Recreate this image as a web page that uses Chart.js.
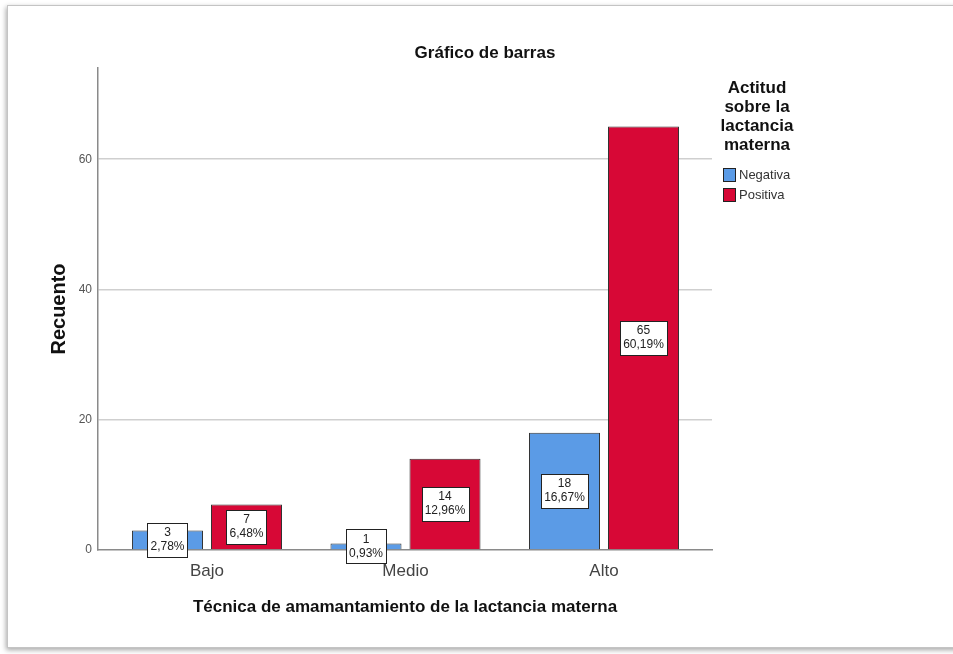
<!DOCTYPE html>
<html><head><meta charset="utf-8">
<script src="https://cdn.jsdelivr.net/npm/chart.js@4"></script>
<style>
html,body{margin:0;padding:0;background:#fff;width:953px;height:654px;overflow:hidden}
#frame{position:absolute;left:7px;top:5px;width:960px;height:641px;border:1px solid #c4c4c4;box-shadow:-1px 2px 5px rgba(0,0,0,0.35);background:#fff}
#wrap{position:absolute;left:0;top:0;width:953px;height:654px}
</style></head><body>
<div id="frame"></div>
<div id="wrap"><canvas id="c" width="953" height="654"></canvas></div>
<script>
const categories = ['Bajo', 'Medio', 'Alto'];
const seriesNames = ['Negativa', 'Positiva'];
const negativa = [3, 1, 18];
const positiva = [7, 14, 65];
const negativaPct = [2.78, 0.93, 16.67];
const positivaPct = [6.48, 12.96, 60.19];
const yTicks = [0, 20, 40, 60];
const chartTitle = 'Gráfico de barras';
const yTitle = 'Recuento';
const xTitle = 'Técnica de amamantamiento de la lactancia materna';
const legendTitle = ['Actitud', 'sobre la', 'lactancia', 'materna'];

const colors = ['#5B9BE6', '#D70836'];
const FONT = '"Liberation Sans", Arial, sans-serif';
const pctText = v => v.toFixed(2).replace('.', ',') + '%';

const toPoints = arr => arr.map((v, i) => ({x: i, y: v}));

const labelsPlugin = {
  id: 'boxLabels',
  afterDatasetsDraw(chart) {
    const ctx = chart.ctx;
    const pcts = [negativaPct, positivaPct];
    chart.data.datasets.forEach((ds, di) => {
      const meta = chart.getDatasetMeta(di);
      meta.data.forEach((bar, i) => {
        const l1 = String(ds.data[i].y);
        const l2 = pctText(pcts[di][i]);
        ctx.save();
        ctx.font = '12px ' + FONT;
        const w = Math.max(ctx.measureText(l1).width, ctx.measureText(l2).width) + 6;
        const h = 34;
        const cx = bar.x, cy = (bar.y + bar.base) / 2;
        const x0 = Math.round(cx - w / 2) + 0.5, y0 = Math.round(cy - h / 2) + 0.5;
        ctx.fillStyle = '#fff';
        ctx.strokeStyle = '#222';
        ctx.lineWidth = 1;
        ctx.fillRect(x0, y0, Math.round(w), h);
        ctx.strokeRect(x0, y0, Math.round(w), h);
        ctx.fillStyle = '#222';
        ctx.textAlign = 'center';
        ctx.textBaseline = 'middle';
        ctx.fillText(l1, cx, cy - 7);
        ctx.fillText(l2, cx, cy + 7);
        ctx.restore();
      });
    });
  },
  afterDraw(chart) {
    const ctx = chart.ctx;
    ctx.save();
    ctx.fillStyle = '#111';
    ctx.textAlign = 'center';
    ctx.textBaseline = 'middle';
    ctx.font = 'bold 17px ' + FONT;
    ctx.fillText(chartTitle, 485, 53);
    ctx.font = 'bold 17px ' + FONT;
    legendTitle.forEach((t, i) => ctx.fillText(t, 757, 88 + i * 19));
    ctx.textAlign = 'left';
    ctx.font = '13px ' + FONT;
    seriesNames.forEach((n, i) => {
      const y = 168 + i * 20;
      ctx.fillStyle = colors[i];
      ctx.fillRect(723.5, y + 0.5, 12, 13);
      ctx.strokeStyle = '#222';
      ctx.lineWidth = 1;
      ctx.strokeRect(723.5, y + 0.5, 12, 13);
      ctx.fillStyle = '#333';
      ctx.fillText(n, 739, y + 7.5);
    });
    ctx.restore();
  }
};

new Chart(document.getElementById('c'), {
  type: 'bar',
  data: {
    datasets: [
      {label: seriesNames[0], data: toPoints(negativa), backgroundColor: colors[0], borderColor: '#333', borderWidth: 1},
      {label: seriesNames[1], data: toPoints(positiva), backgroundColor: colors[1], borderColor: '#333', borderWidth: 1}
    ]
  },
  plugins: [labelsPlugin],
  options: {
    responsive: false,
    animation: false,
    devicePixelRatio: 1,
    layout: {padding: {left: 47, top: 68, right: 241, bottom: 33}},
    datasets: {bar: {categoryPercentage: 0.796, barPercentage: 0.899}},
    plugins: {legend: {display: false}, tooltip: {enabled: false}, title: {display: false}},
    scales: {
      x: {
        type: 'linear',
        offset: false,
        min: -0.549,
        max: 2.544,
        afterBuildTicks: s => { s.ticks = categories.map((c, i) => ({value: i})); },
        afterFit: s => { s.height = 71; },
        ticks: {callback: v => categories[v], font: {family: FONT, size: 17}, color: '#444', padding: 11, autoSkip: false, maxRotation: 0},
        grid: {display: false, drawTicks: false},
        border: {display: true, color: '#8a8a8a', width: 1.5},
        title: {display: true, text: xTitle, font: {family: FONT, size: 17, weight: 'bold'}, color: '#111', padding: {top: 0, bottom: 3}}
      },
      y: {
        min: 0,
        max: 74,
        afterBuildTicks: s => { s.ticks = yTicks.map(v => ({value: v})); },
        afterFit: s => { s.width = 51; },
        ticks: {font: {family: FONT, size: 12}, color: '#555', padding: 6},
        grid: {drawTicks: false, color: ctx => ctx.tick && ctx.tick.value === 0 ? 'rgba(0,0,0,0)' : '#cfcfcf', lineWidth: 1.5},
        border: {display: true, color: '#8a8a8a', width: 1.5},
        title: {display: true, text: yTitle, font: {family: FONT, size: 20, weight: 'bold'}, color: '#111', padding: 0}
      }
    }
  }
});
</script>
</body></html>
